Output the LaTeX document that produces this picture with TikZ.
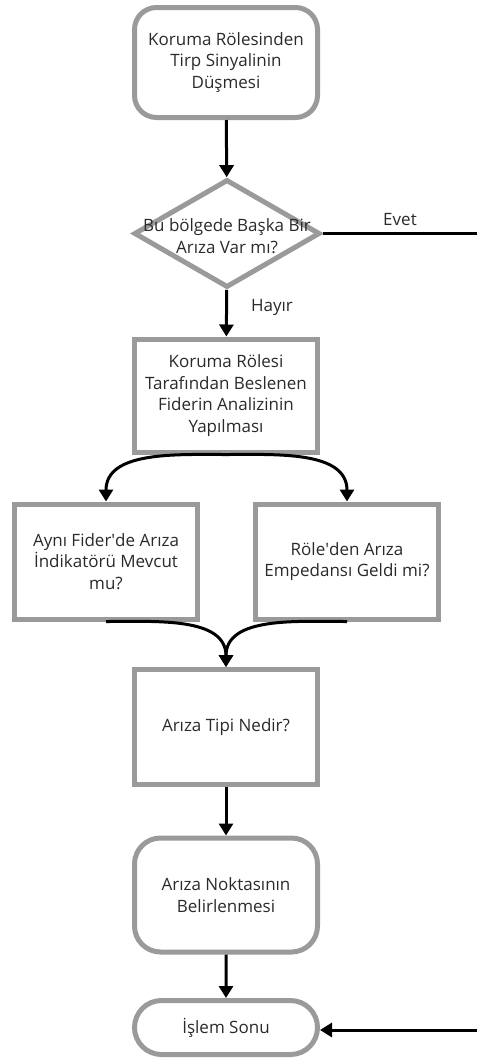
\documentclass[tikz,border=0pt]{standalone}
\usepackage{fontspec}
\setmainfont{Open Sans}
\usetikzlibrary{arrows.meta,shapes.geometric,shapes.misc}
\definecolor{kenar}{HTML}{9A9A9A}
\definecolor{yazi}{HTML}{2A2A2A}
\begin{document}
\begin{tikzpicture}[x=1pt, y=1pt,
        every node/.style={font=\fontsize{17}{21.5}\selectfont, text=yazi, align=center},
        kutu/.style={draw=kenar, line width=5pt, minimum width=183pt, minimum height=110pt, inner sep=0pt},
        yuvarlak/.style={kutu, rounded corners=22pt},
        karar/.style={diamond, draw=kenar, line width=5pt, minimum width=186pt, minimum height=108pt, inner sep=0pt},
        bitis/.style={rounded rectangle, draw=kenar, line width=5pt, minimum width=183pt, minimum height=54pt, inner sep=0pt},
        ok/.style={line width=3pt, -{Triangle[width=14pt,length=12pt]}}]
    \useasboundingbox (0,0) rectangle (477,-1061);

    \node[yuvarlak] (trip) at (226,-62.5) {Koruma Rölesinden\\Tirp Sinyalinin\\Düşmesi};
    \node[karar] (soru) at (227,-233.5) {};
    \node at (227,-236) {Bu bölgede Başka Bir\\Arıza Var mı?};
    \node[kutu, minimum height=113pt] (analiz) at (226,-395.5) {Koruma Rölesi\\Tarafından Beslenen\\Fiderin Analizinin\\Yapılması};
    \node[kutu, minimum height=115pt] (indik) at (106,-561.5) {Aynı Fider\textquotesingle de Arıza\\İndikatörü Mevcut\\mu?};
    \node[kutu, minimum height=115pt] (emped) at (347,-561.5) {Röle\textquotesingle den Arıza\\Empedansı Geldi mi?};
    \node[kutu, minimum height=115pt] (tip) at (226,-727) {Arıza Tipi Nedir?};
    \node[yuvarlak, minimum height=114pt, rounded corners=26pt] (nokta) at (226,-895) {Arıza Noktasının\\Belirlenmesi};
    \node[bitis] (son) at (226,-1027.5) {İşlem Sonu};

    \coordinate (evet) at (477,-233.5);
    \coordinate (geri) at (477,-1030);

    \draw[ok] (trip) -- (soru);
    \draw[line width=3pt] (soru.east) -- (evet);
    \node at (400,-220) {Evet};
    \draw[ok] (soru) -- (analiz);
    \node at (272,-307) {Hayır};
    \draw[ok] (analiz.south) to[out=180, in=90] (indik.north);
    \draw[ok] (analiz.south) to[out=0, in=90] (emped.north);
    \draw[ok] (indik.south) to[out=0, in=90] (tip.north);
    \draw[ok] (emped.south) to[out=180, in=90] (tip.north);
    \draw[ok] (tip) -- (nokta);
    \draw[ok] (nokta) -- (son);
    \draw[ok] (geri) -- (son.east |- geri);
\end{tikzpicture}
\end{document}
